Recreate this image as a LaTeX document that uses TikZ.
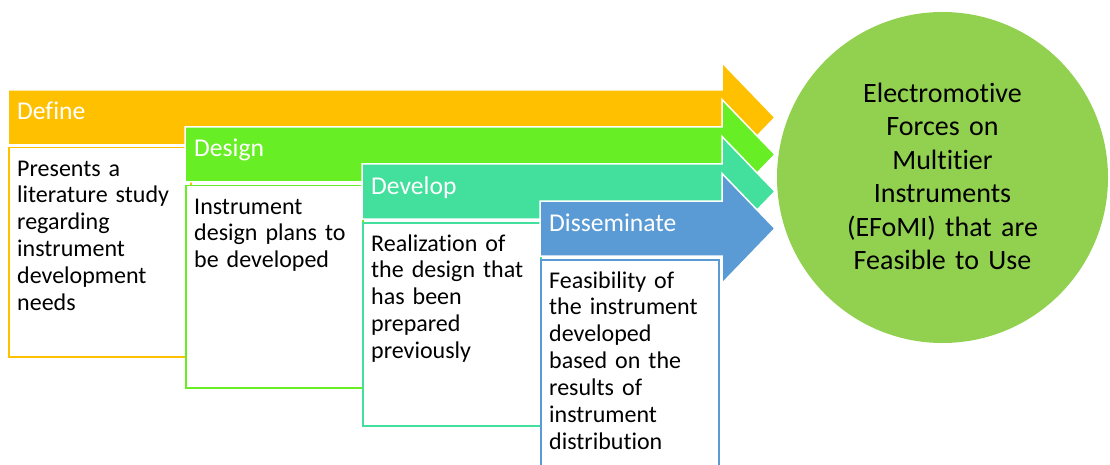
\documentclass[tikz,border=0pt]{standalone}
\usepackage{fontspec}
\setmainfont{Carlito}[Ligatures=NoCommon]
\definecolor{cdef}{HTML}{FFC000}
\definecolor{cdes}{HTML}{68EE25}
\definecolor{cdev}{HTML}{43E09D}
\definecolor{cdis}{HTML}{5B9BD5}
\definecolor{cgoal}{HTML}{92D050}
\begin{document}
\begin{tikzpicture}[x=1pt,y=-1pt,
  band/.style={draw=white, line width=1.5pt, line join=miter},
  phase/.style={font=\fontsize{25.6}{30}\selectfont, text=white, inner sep=0pt, anchor=base west},
  stagebox/.style={draw=#1, line width=1.5pt, fill=white, anchor=north west, inner sep=0pt},
  boxtext/.style={font=\fontsize{24}{26.9}\selectfont, inner sep=0pt, anchor=base west, text width=172pt, align=left},
  goalnode/.style={circle, fill=cgoal, minimum size=331pt, inner sep=0pt},
  goaltext/.style={font=\fontsize{28}{33.4}\selectfont, inner sep=0pt, anchor=base, text width=300pt, align=center},
]
\useasboundingbox (0,0) rectangle (1110,465);

% Define
\draw[band, fill=cdef] (8,90) -- (722,90) -- (722,62.5) -- (775,117.5) -- (722,172.5) -- (722,145) -- (8,145) -- cycle;
\node[phase] (tdef) at (17,120) {Define};
\node[stagebox=cdef, minimum width=182pt, minimum height=209pt] (bdef) at (8,147) {};
\node[boxtext] (xdef) at ([shift={(9,29)}]bdef.north west)
  {Presents a\\literature study\\regarding\\instrument\\development\\needs};

% Design
\draw[band, fill=cdes] (185,127) -- (722,127) -- (722,99.5) -- (775,154.5) -- (722,209.5) -- (722,182) -- (185,182) -- cycle;
\node[phase] (tdes) at (194,157) {Design};
\node[stagebox=cdes, minimum width=177pt, minimum height=202pt] (bdes) at (185,185) {};
\node[boxtext] (xdes) at ([shift={(9,29)}]bdes.north west)
  {Instrument\\design plans to\\be developed};

% Develop
\draw[band, fill=cdev] (362,164) -- (722,164) -- (722,136.5) -- (775,191.5) -- (722,246.5) -- (722,219) -- (362,219) -- cycle;
\node[phase] (tdev) at (371,194) {Develop};
\node[stagebox=cdev, minimum width=178pt, minimum height=203pt] (bdev) at (362,222) {};
\node[boxtext] (xdev) at ([shift={(9,29)}]bdev.north west)
  {Realization of\\the design that\\has been\\prepared\\previously};

% Disseminate
\draw[band, fill=cdis] (540,201) -- (722,201) -- (722,173.5) -- (775,228.5) -- (722,283.5) -- (722,256) -- (540,256) -- cycle;
\node[phase] (tdis) at (549,231) {Disseminate};
\node[stagebox=cdis, minimum width=178pt, minimum height=225pt] (bdis) at (540,259) {};
\node[boxtext] (xdis) at ([shift={(9,29)}]bdis.north west)
  {Feasibility of\\the instrument\\developed\\based on the\\results of\\instrument\\distribution};

% Outcome
\node[goalnode] (goal) at (942.5,177.5) {};
\node[goaltext] (goalt) at ([shift={(0,-75)}]goal.center)
  {Electromotive\\Forces on\\Multitier\\Instruments\\(EFoMI) that are\\Feasible to Use};
\end{tikzpicture}
\end{document}
